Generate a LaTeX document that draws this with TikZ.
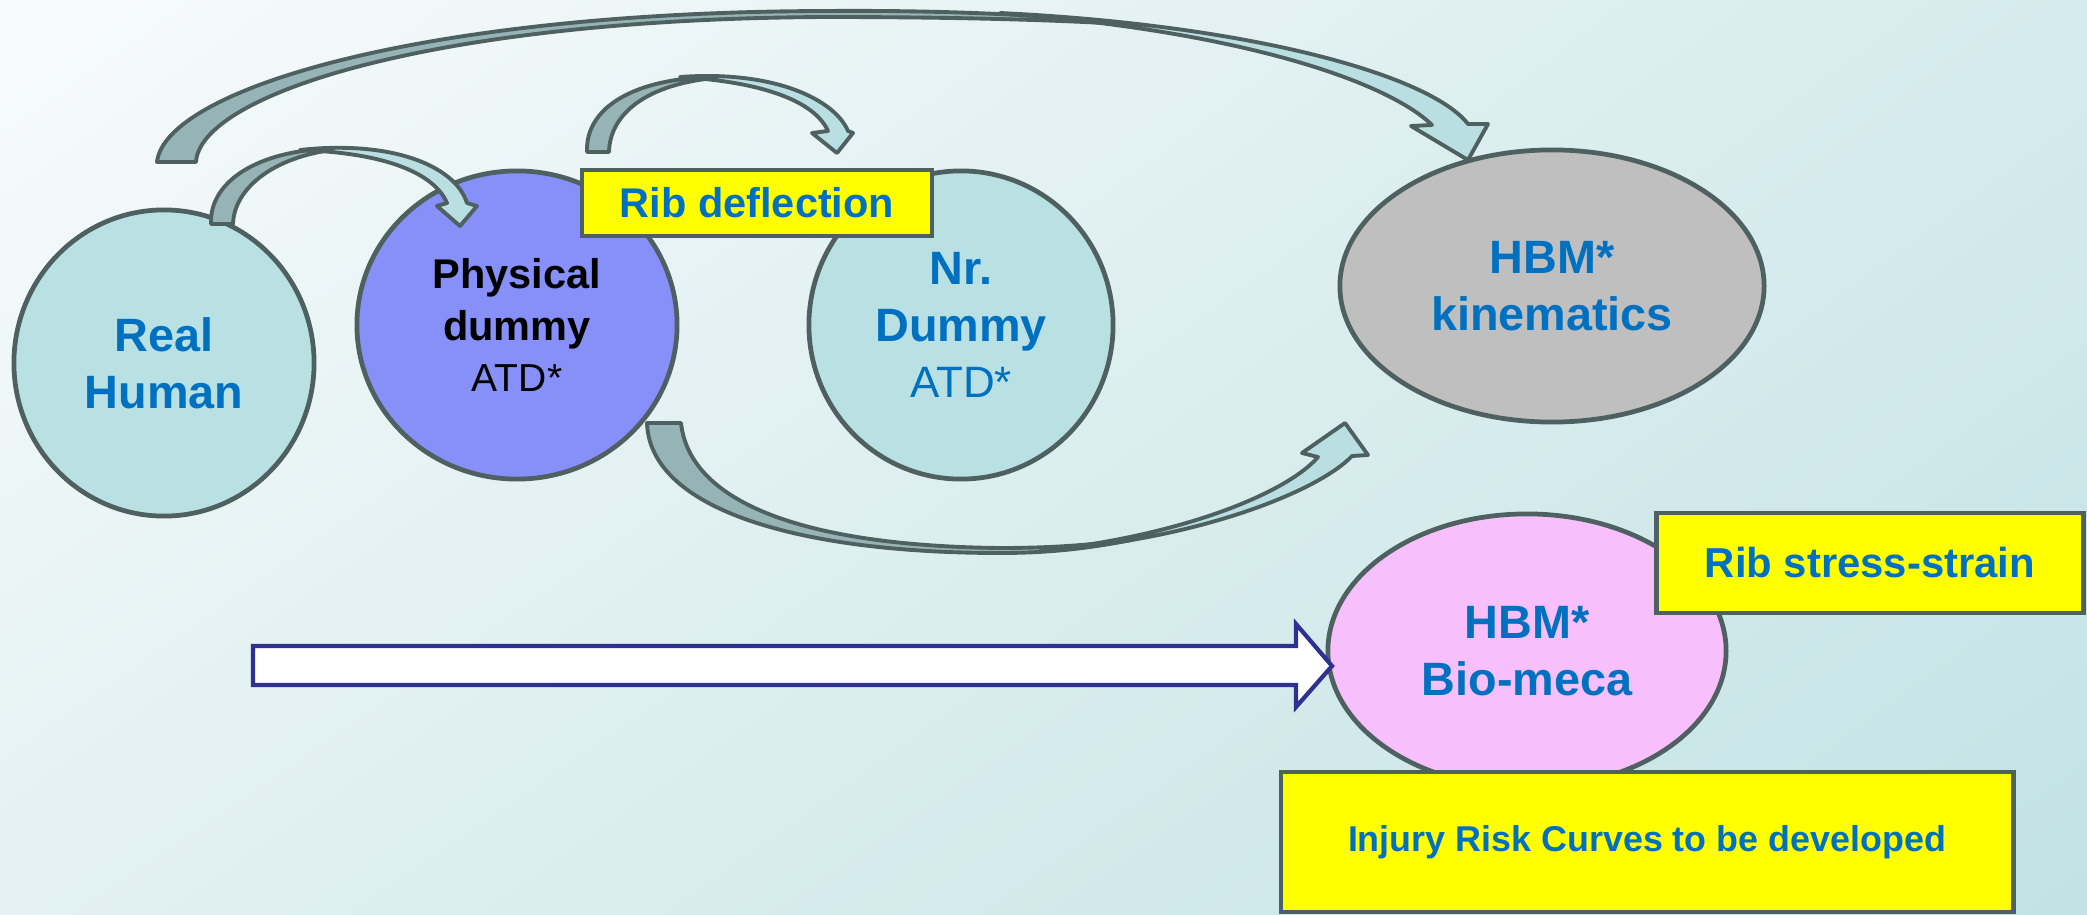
\documentclass[tikz,border=0pt]{standalone}
\usepackage{fontspec}
\setmainfont{Liberation Sans}
\usetikzlibrary{shapes.geometric,shadings}

\definecolor{edgegray}{HTML}{4F6060}
\definecolor{tealfill}{HTML}{B9E0E3}
\definecolor{physfill}{HTML}{878FF8}
\definecolor{kinfill}{HTML}{BFBFBF}
\definecolor{biofill}{HTML}{F7BFFC}
\definecolor{tagyellow}{HTML}{FFFF00}
\definecolor{txtblue}{HTML}{0070C0}
\definecolor{bandback}{HTML}{96B4B5}
\definecolor{bandfront}{HTML}{BADFE2}
\definecolor{arrownavy}{HTML}{2E3192}
\definecolor{bgTL}{HTML}{F8FBFC}
\definecolor{bgTR}{HTML}{D6EBED}
\definecolor{bgBL}{HTML}{E3F1F2}
\definecolor{bgBR}{HTML}{C2E2E4}

\tikzset{
  model/.style={ellipse, draw=edgegray, line width=1.35pt, inner sep=0pt, align=center,
    text=txtblue, font=\fontsize{13.3pt}{16.2pt}\selectfont\bfseries},
  tag/.style={rectangle, draw=edgegray, line width=1.3pt, fill=tagyellow, inner sep=0pt,
    text=txtblue},
  backface/.style={draw=edgegray, line width=1.1pt, line join=round, fill=bandback},
  frontface/.style={draw=edgegray, line width=1.1pt, line join=round, fill=bandfront},
}

\begin{document}
\begin{tikzpicture}[x=0.01cm,y=-0.01cm]
  \useasboundingbox (0,0) rectangle (2087,915);

  % Background
  \shade[upper left=bgTL, upper right=bgTR, lower left=bgBL, lower right=bgBR]
    (0,0) rectangle (2087,915);

  % Models
  \node[model, fill=tealfill, minimum width=3cm, minimum height=3.06cm]
    (human) at (164,363) {Real\\Human};
  \node[model, fill=physfill, text=black, minimum width=3.2cm, minimum height=3.08cm,
    font=\fontsize{11.8pt}{14.6pt}\selectfont\bfseries]
    (physdummy) at (517,325) {Physical\\dummy\\{\mdseries\fontsize{11.1pt}{14.6pt}\selectfont ATD*}};
  \node[model, fill=tealfill, minimum width=3.04cm, minimum height=3.08cm,
    font=\fontsize{13.3pt}{16.1pt}\selectfont\bfseries]
    (nrdummy) at (961,325) {Nr.\\Dummy\\{\mdseries\fontsize{12.5pt}{16.1pt}\selectfont ATD*}};
  \node[model, fill=kinfill, minimum width=4.24cm, minimum height=2.72cm]
    (hbmkin) at (1552,286) {HBM*\\kinematics};
  \node[model, fill=biofill, minimum width=3.98cm, minimum height=2.74cm]
    (hbmbio) at (1527,651) {HBM*\\Bio-meca};

  % Labels
  \node[tag, minimum width=3.5cm, minimum height=0.66cm,
    font=\fontsize{11.8pt}{14pt}\selectfont\bfseries]
    (ribdefl) at (757,203) {Rib deflection};
  \node[tag, minimum width=4.27cm, minimum height=1cm,
    font=\fontsize{11.9pt}{14pt}\selectfont\bfseries]
    (ribstress) at (1870,563) {Rib stress-strain};
  \node[tag, minimum width=7.32cm, minimum height=1.4cm,
    font=\fontsize{10.2pt}{12pt}\selectfont\bfseries]
    (irc) at (1647,842) {Injury Risk Curves to be developed};

  % Real Human -> Physical dummy
  \draw[backface] (211,224) .. controls (209,180) and (262,147) .. (345,148.5)
    .. controls (275,154) and (234,188) .. (233,224) -- cycle;
  \draw[frontface] (300,150) .. controls (390,140) and (455,165) .. (467,203)
    -- (477,206) -- (460,226) -- (437,206) -- (447,203)
    .. controls (435,175) and (390,153) .. (300,150) -- cycle;

  % Physical dummy -> Nr. Dummy
  \draw[backface] (587,152) .. controls (585,105) and (640,75) .. (728,77)
    .. controls (650,81) and (610,112) .. (609,152) -- cycle;
  \draw[frontface] (680,77) .. controls (775,70) and (835,100) .. (848,131)
    -- (853,133) -- (837,153) -- (812,133) -- (828,131)
    .. controls (815,102) and (765,82) .. (680,77) -- cycle;

  % Real Human -> HBM kinematics
  \draw[backface] (157,162) .. controls (165,90) and (420,12) .. (825,11)
    .. controls (960,10) and (1060,16) .. (1140,25)
    .. controls (1060,20) and (960,17) .. (825,17)
    .. controls (430,19) and (200,95) .. (196,162) -- cycle;
  \draw[frontface] (1000,13) .. controls (1250,25) and (1430,75) .. (1468,124)
    -- (1488,124) -- (1468,160) -- (1411,126) -- (1432,125)
    .. controls (1390,84) and (1250,32) .. (1000,13) -- cycle;

  % Physical dummy -> HBM kinematics
  \draw[backface] (647,423) .. controls (650,510) and (800,553) .. (1000,553)
    .. controls (1060,553) and (1100,546) .. (1131,540)
    .. controls (1095,544) and (1060,548) .. (1000,548)
    .. controls (810,546) and (690,505) .. (681,423) -- cycle;
  \draw[frontface] (1040,551) .. controls (1200,540) and (1320,490) .. (1352,456)
    -- (1368,455) -- (1345,423) -- (1302,453) -- (1318,457)
    .. controls (1290,490) and (1190,535) .. (1040,551) -- cycle;

  % Big arrow to HBM Bio-meca
  \draw[draw=arrownavy, line width=1.2pt, fill=white]
    (253,646) -- (1296,646) -- (1296,624) -- (1332,666) -- (1296,707)
    -- (1296,685) -- (253,685) -- cycle;
\end{tikzpicture}
\end{document}
